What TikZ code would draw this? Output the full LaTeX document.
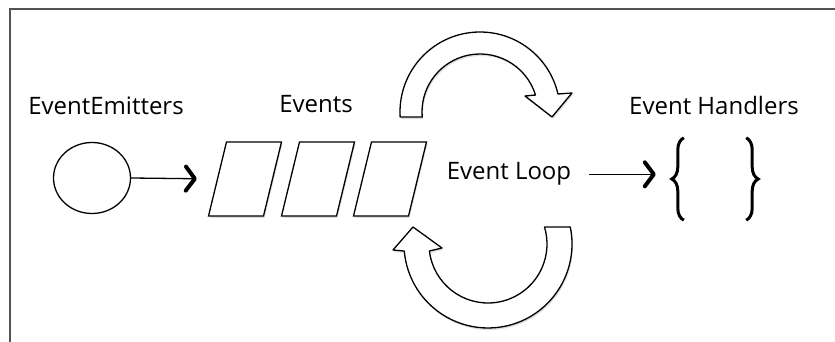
\documentclass[tikz,border=0pt]{standalone}
\usepackage{fontspec}
\setmainfont{Open Sans}
\usetikzlibrary{positioning, arrows.meta, shapes.geometric, decorations.pathreplacing, shadows}

\begin{document}
\begin{tikzpicture}[x=1pt, y=1pt, font=\fontsize{24}{28}\selectfont,
    bordo/.style={line width=1.4pt, gray!65!black},
    evento/.style={rectangle, xslant=0.243, transform shape,
      draw, line width=1.3pt, fill=white, minimum height=74pt, minimum width=55pt,
      inner sep=0pt, drop shadow={opacity=0.25, shadow xshift=1pt, shadow yshift=-2pt}},
    freccia/.style={line width=1.3pt, arrows={-Straight Barb[length=9pt, width=24pt, line width=4pt, round]}},
    giro/.style={draw, line width=1.3pt, fill=white, line join=round,
      drop shadow={opacity=0.25, shadow xshift=1pt, shadow yshift=-2pt}},
    graffa/.style={decorate, decoration={brace, amplitude=12pt}, line width=3pt}]
  \useasboundingbox (0,0) rectangle (835,342);
  % cornice (tagliata a destra e in basso)
  \draw[bordo] (10,0) -- (10,333) -- (835,333);
  % sorgente degli eventi
  \node[draw, ellipse, line width=1.3pt, minimum width=77pt, minimum height=71pt, inner sep=0pt] (emettitore) at (92,164) {};
  \node[anchor=base] (lblemit) at (106,227) {EventEmitters};
  % coda degli eventi
  \foreach \i/\x in {1/245, 2/318, 3/390}{
    \node[evento] (ev\i) at (\x,163) {};
  }
  \node[anchor=base] (lblev) at (316,229) {Events};
  \draw[freccia, shorten >=20pt] (emettitore.east) -- (ev1.west);
  % ciclo: frecce curve sopra e sotto
  \begin{scope}[shift={(480,230)}]
    \draw[giro] (183.6:80) arc[start angle=183.6, end angle=13, radius=80]
      -- (92,19) -- (72,-5) -- (45,16) -- (17:58)
      arc[start angle=17, end angle=185, radius=58] -- cycle;
  \end{scope}
  \begin{scope}[shift={(488,98)}]
    \draw[giro] (11.7:84) arc[start angle=11.7, end angle=-175.2, radius=84]
      -- (-95,-6) -- (-75,17) -- (-46,-4) -- (-173.2:59)
      arc[start angle=-173.2, end angle=16.7, radius=59] -- cycle;
  \end{scope}
  \node[anchor=base] (ciclo) at (509,162) {Event Loop};
  % gestori
  \node[minimum width=62pt, minimum height=82pt, inner sep=0pt] (gestori) at (715,163) {};
  \node[anchor=base] (lblgest) at (714,227) {Event Handlers};
  \draw[graffa] (gestori.south west) -- (gestori.north west);
  \draw[graffa] (gestori.north east) -- (gestori.south east);
  \draw[freccia, shorten <=14pt, shorten >=28pt] (ciclo.east) -- (ciclo.east -| gestori.west);
\end{tikzpicture}
\end{document}
